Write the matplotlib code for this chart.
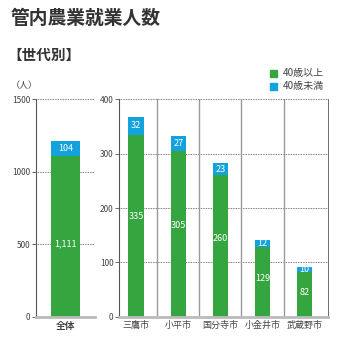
import matplotlib
matplotlib.use("Agg")
import matplotlib.pyplot as plt
from matplotlib.patches import Rectangle

plt.rcParams['font.family'] = ['Noto Sans CJK JP', 'DejaVu Sans']

# data
total_label = "全体"
total_over40 = 1111
total_under40 = 104

cities = ["三鷹市", "小平市", "国分寺市", "小金井市", "武蔵野市"]
over40 = [335, 305, 260, 129, 82]
under40 = [32, 27, 23, 12, 10]

green = "#35a540"
blue = "#12a2de"
txt = "#333333"
grid_kw = dict(color="#555555", lw=0.6, ls=(0, (1, 1)))

W = H = 338
fig = plt.figure(figsize=(3.38, 3.38), dpi=100)


def px_axes(x0, y0, x1, y1):
    # pixel box (top-left origin) -> figure fraction
    return fig.add_axes([x0 / W, (H - y1) / H, (x1 - x0) / W, (y1 - y0) / H])


def style(ax, ticks):
    ax.set_yticks(ticks)
    ax.tick_params(axis="y", length=3, width=0.6, color="#555555",
                   labelsize=6, labelcolor="#444444", pad=1)
    ax.tick_params(axis="x", length=0, labelsize=6.5, labelcolor="#444444", pad=3)
    for s in ("top", "right"):
        ax.spines[s].set_visible(False)
    ax.spines["left"].set_color("#555555")
    ax.spines["left"].set_linewidth(0.8)
    ax.spines["bottom"].set_color("#bbbbbb")
    ax.spines["bottom"].set_linewidth(2)
    for t in ticks[1:]:
        ax.axhline(t, zorder=0, **grid_kw)


# left: total
ax1 = px_axes(35.7, 99.3, 95, 316.7)
ax1.bar([0], [total_over40], width=0.49, color=green, zorder=2)
ax1.bar([0], [total_under40], bottom=[total_over40], width=0.49, color=blue, zorder=2)
ax1.set_xlim(-0.5, 0.5)
ax1.set_ylim(0, 1500)
style(ax1, [0, 500, 1000, 1500])
ax1.set_xticks([0])
ax1.set_xticklabels([total_label], fontweight="bold", fontsize=7)
ax1.text(0, total_over40 * 0.45, f"{total_over40:,}", color="white",
         ha="center", va="center", fontsize=6.5)
ax1.text(0, total_over40 + total_under40 / 2, f"{total_under40:,}", color="white",
         ha="center", va="center", fontsize=6.5)

# right: cities
ax2 = px_axes(119, 99.3, 327.7, 316.7)
xs = list(range(len(cities)))
ax2.bar(xs, over40, width=0.37, color=green, zorder=2)
ax2.bar(xs, under40, bottom=over40, width=0.37, color=blue, zorder=2)
ax2.set_xlim(-0.41, 4.55)
ax2.set_ylim(0, 400)
style(ax2, [0, 100, 200, 300, 400])
ax2.spines["right"].set_visible(True)
ax2.spines["right"].set_color("#555555")
ax2.spines["right"].set_linewidth(0.6)
for i in xs[:-1]:
    ax2.axvline(i + 0.5, color="#999999", lw=1, zorder=1)
ax2.set_xticks(xs)
ax2.set_xticklabels(cities)
for i in xs:
    ax2.text(i, over40[i] * 0.55, str(over40[i]), color="white",
             ha="center", va="center", fontsize=6.5)
    ax2.text(i, over40[i] + under40[i] / 2, str(under40[i]), color="white",
             ha="center", va="center", fontsize=6.5)

# titles
fig.text(11 / W, 1 - 18.5 / H, "管内農業就業人数", fontsize=13.5,
         fontweight="bold", color=txt, va="center")
fig.text(7 / W, 1 - 55 / H, "【世代別】", fontsize=10.5,
         fontweight="bold", color=txt, va="center")
fig.text(11 / W, 1 - 85.5 / H, "（人）", fontsize=6.5, color="#444444", va="center")

# legend
for k, (lab, c) in enumerate([("40歳以上", green), ("40歳未満", blue)]):
    yc = 73 + k * 13.5
    fig.patches.append(Rectangle((269.5 / W, 1 - (yc + 3.5) / H), 7 / W, 7 / H,
                                 transform=fig.transFigure, color=c))
    fig.text(283 / W, 1 - yc / H, lab, fontsize=7.2, color="#444444", va="center")

fig.savefig("out.png", dpi=100)
